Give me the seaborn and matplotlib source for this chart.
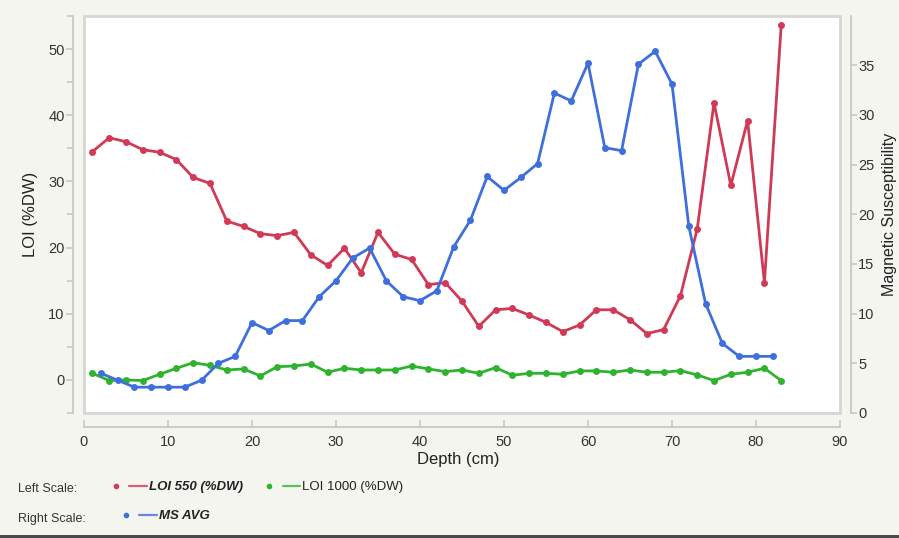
import matplotlib
matplotlib.use("Agg")
import matplotlib.pyplot as plt
import seaborn as sns
from matplotlib.lines import Line2D
from matplotlib.patches import Rectangle
from matplotlib.legend_handler import HandlerTuple
from matplotlib.ticker import MultipleLocator

# Data
loi_depth = [1, 3, 5, 7, 9, 11, 13, 15, 17, 19, 21, 23, 25, 27, 29, 31, 33, 35, 37, 39, 41,
             43, 45, 47, 49, 51, 53, 55, 57, 59, 61, 63, 65, 67, 69, 71, 73, 75, 77, 79, 81, 83]
loi_550 = [34.5, 36.6, 36.0, 34.8, 34.4, 33.3, 30.6, 29.7, 24.0, 23.2, 22.1, 21.8, 22.3, 18.9,
           17.3, 19.9, 16.2, 22.3, 19.0, 18.2, 14.4, 14.7, 11.9, 8.1, 10.6, 10.8, 9.8, 8.7,
           7.3, 8.3, 10.6, 10.6, 9.1, 7.0, 7.6, 12.7, 22.8, 41.9, 29.4, 39.2, 14.7, 53.6]
loi_1000 = [1.0, -0.1, 0.0, -0.1, 0.85, 1.76, 2.6, 2.2, 1.5, 1.66, 0.6, 2.0, 2.1, 2.4, 1.16,
            1.76, 1.5, 1.5, 1.5, 2.1, 1.66, 1.26, 1.5, 1.0, 1.86, 0.7, 1.0, 1.0, 0.85, 1.36,
            1.36, 1.16, 1.5, 1.16, 1.16, 1.4, 0.75, -0.1, 0.85, 1.16, 1.76, -0.1]
ms_depth = [2, 4, 6, 8, 10, 12, 14, 16, 18, 20, 22, 24, 26, 28, 30, 32, 34, 36, 38, 40, 42,
            44, 46, 48, 50, 52, 54, 56, 58, 60, 62, 64, 66, 68, 70, 72, 74, 76, 78, 80, 82]
ms_avg = [4.0, 3.3, 2.6, 2.6, 2.6, 2.6, 3.3, 5.0, 5.7, 9.1, 8.3, 9.3, 9.3, 11.7, 13.3, 15.6,
          16.6, 13.3, 11.7, 11.3, 12.3, 16.7, 19.4, 23.8, 22.4, 23.7, 25.1, 32.2, 31.4, 35.2,
          26.7, 26.4, 35.1, 36.4, 33.1, 18.8, 11.0, 7.0, 5.7, 5.7, 5.7]

red = "#d03a56"
green = "#2fb32f"
blue = "#3f6fdc"
bg = "#f5f5f0"
spine_col = "#c4c4c0"
text_col = "#333333"

sns.set_theme(style="ticks")
plt.rcParams["font.family"] = ["Liberation Sans", "DejaVu Sans"]

fig = plt.figure(figsize=(8.99, 5.38), dpi=100, facecolor=bg)
ax = fig.add_axes([84 / 899, 1 - 413 / 538, 756 / 899, 397 / 538])
ax2 = ax.twinx()

ax.patch.set_facecolor("white")
ax.patch.set_edgecolor("#d6d6d2")
ax.patch.set_linewidth(2)

line_kw = dict(marker="o", markersize=5, markeredgewidth=0, linewidth=2, sort=False)
sns.lineplot(x=loi_depth, y=loi_550, ax=ax, color=red, **line_kw)
sns.lineplot(x=loi_depth, y=loi_1000, ax=ax, color=green, **line_kw)
sns.lineplot(x=ms_depth, y=ms_avg, ax=ax2, color=blue, **line_kw)

ax.set_xlim(0, 90)
ax.set_ylim(-5, 55)
ax2.set_ylim(0, 39.95)

ax.xaxis.set_major_locator(MultipleLocator(10))
ax.yaxis.set_major_locator(MultipleLocator(10))
ax.yaxis.set_minor_locator(MultipleLocator(5))
ax2.yaxis.set_major_locator(MultipleLocator(5))

for s in ["top", "right"]:
    ax.spines[s].set_visible(False)
for s in ["top", "left", "bottom"]:
    ax2.spines[s].set_visible(False)
ax.spines["left"].set_position(("outward", 8))
ax.spines["bottom"].set_position(("outward", 10))
ax2.spines["right"].set_position(("outward", 8))
for sp in [ax.spines["left"], ax.spines["bottom"], ax2.spines["right"]]:
    sp.set_color(spine_col)
    sp.set_linewidth(1.2)

ax.tick_params(axis="x", direction="in", length=5, width=1.1, color=spine_col,
               labelsize=10.5, labelcolor=text_col, pad=6)
ax.tick_params(axis="y", which="major", direction="out", length=5, width=1.1,
               color=spine_col, labelsize=10.5, labelcolor=text_col, pad=1)
ax.tick_params(axis="y", which="minor", direction="out", length=4, width=1.1, color=spine_col)
ax2.tick_params(axis="y", direction="out", length=4, width=1.1, color=spine_col,
                labelsize=10.5, labelcolor=text_col, pad=1)

ax.set_xlabel("Depth (cm)", fontsize=12, color="#222222")
ax.set_ylabel("LOI (%DW)", fontsize=12, color="#222222")
ax2.set_ylabel("Magnetic Susceptibility", fontsize=11.5, color="#222222")
ax.xaxis.label.set_va("center")
ax.yaxis.label.set_va("center")
ax2.yaxis.label.set_va("center")
ax.xaxis.set_label_coords(0.495, -0.116)
ax.yaxis.set_label_coords(-0.0714, 0.5)
ax2.yaxis.set_label_coords(1.066, 0.5)

# legends below the plot
fig.text(18 / 899, 1 - 489 / 538, "Left Scale:", fontsize=9, color=text_col, va="center")
fig.text(18 / 899, 1 - 519 / 538, "Right Scale:", fontsize=9, color=text_col, va="center")

def handle(c):
    dot = Line2D([], [], color=c, marker="o", markersize=3, linestyle="none")
    ln = Line2D([], [], color=c, alpha=0.8, linewidth=1.6)
    return (dot, ln)

leg_kw = dict(frameon=False, loc="center left", borderpad=0, borderaxespad=0,
              handlelength=3.0, handletextpad=0.15, fontsize=9.5,
              handler_map={tuple: HandlerTuple(ndivide=None, pad=0.4)})
leg1 = fig.legend([handle(red), handle(green)], ["LOI 550 (%DW)", "LOI 1000 (%DW)"],
                  ncol=2, columnspacing=1.35, bbox_to_anchor=(107 / 899, 1 - 487 / 538),
                  **leg_kw)
leg1.get_texts()[0].set_fontweight("bold")
leg1.get_texts()[0].set_fontstyle("italic")
leg2 = fig.legend([handle(blue)], ["MS AVG"], bbox_to_anchor=(117 / 899, 1 - 516 / 538),
                  **leg_kw)
leg2.get_texts()[0].set_fontweight("bold")
leg2.get_texts()[0].set_fontstyle("italic")
for t in leg1.get_texts() + leg2.get_texts():
    t.set_color("#222222")

# dark strip at the bottom edge of the screenshot
fig.add_artist(Rectangle((0, 0), 1, 3 / 538, transform=fig.transFigure,
                         facecolor="#4a4a4a", edgecolor="none"))

fig.savefig("out.png", dpi=100, facecolor=bg)
